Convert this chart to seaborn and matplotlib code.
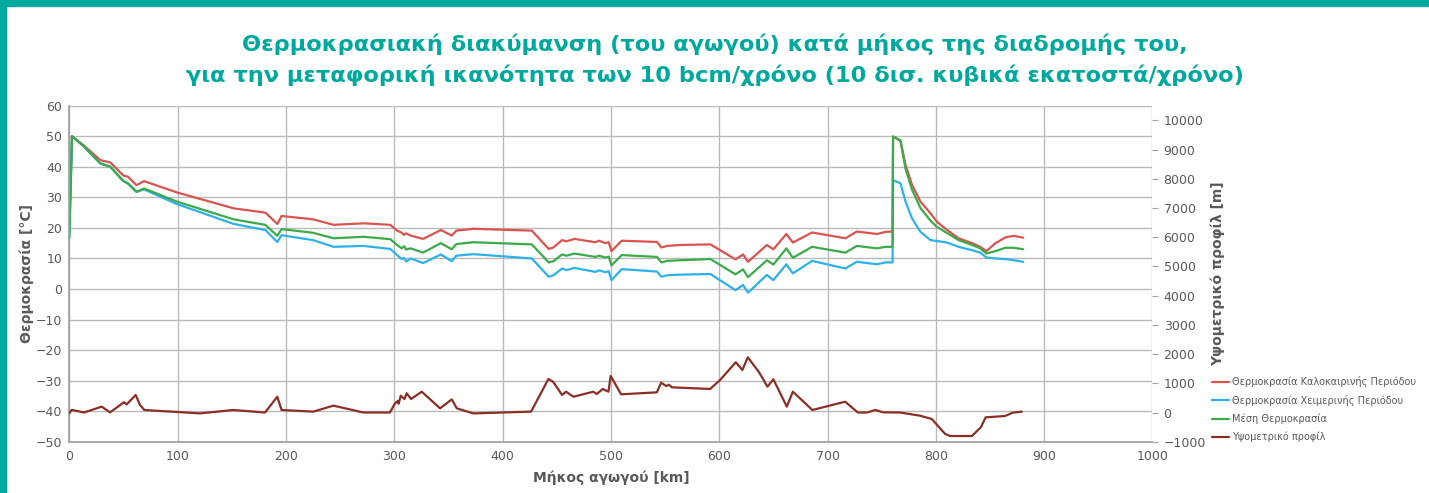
import numpy as np
import pandas as pd
import seaborn as sns
import matplotlib.pyplot as plt
from matplotlib.patches import Rectangle

# km positions shared by the three temperature series
km_temp = [0, 2.5, 13, 28.6, 37.9, 50, 54, 62, 69, 99.4,
           151.7, 181, 192, 196, 225, 244, 271.7, 296.4, 302.6, 307,
           309, 311, 315, 326.6, 343, 353, 357.3, 373, 427, 442.6,
           447, 454.9, 459, 466.3, 485.7, 489, 495, 498, 500.5, 510,
           542.6, 546.6, 552, 564, 591.9, 615, 622, 626.6, 644, 650,
           662, 668, 685.7, 716.5, 727, 745.7, 753.5, 760, 760.5, 767.3,
           772, 778, 785.8, 795, 801, 810.4, 821, 833.5, 841, 846.7,
           855, 864.3, 872, 880.6]

t_summer = [20, 50, 47.1, 42.2, 41.4, 37.1, 36.8, 34.0, 35.3, 31.6,
            26.4, 25.0, 21.3, 23.9, 22.8, 21.0, 21.5, 21.0, 19.1, 18.4,
            17.7, 18.2, 17.5, 16.4, 19.3, 17.5, 19.1, 19.7, 19.1, 13.1,
            13.6, 16.0, 15.6, 16.4, 15.3, 15.8, 15.0, 15.3, 12.4, 15.8,
            15.4, 13.6, 14.1, 14.4, 14.6, 9.7, 11.3, 8.9, 14.4, 13.0,
            18.0, 15.2, 18.5, 16.6, 18.8, 18.0, 18.7, 18.8, 49.9, 48.6,
            40.6, 34.1, 28.6, 24.8, 22.0, 19.3, 16.6, 15.0, 13.8, 12.4,
            15.0, 16.9, 17.4, 16.8]

t_winter = [16.7, 50, 46.8, 41.1, 40.0, 35.3, 34.6, 31.8, 32.6, 27.8,
            21.3, 19.3, 15.4, 17.6, 16.0, 13.8, 14.1, 13.1, 11.1, 9.8,
            10.2, 9.0, 10.0, 8.5, 11.3, 9.1, 10.9, 11.4, 10.0, 4.0,
            4.5, 6.7, 6.2, 6.9, 5.6, 6.1, 5.5, 5.8, 2.9, 6.5,
            5.7, 4.0, 4.5, 4.7, 4.9, -0.4, 1.3, -1.2, 4.6, 2.9,
            8.1, 5.1, 9.2, 6.7, 8.9, 8.1, 8.7, 8.7, 35.6, 34.6,
            28.6, 23.1, 18.7, 16.0, 15.7, 15.2, 13.8, 12.7, 11.9, 10.3,
            10.0, 9.8, 9.4, 8.9]

t_mean = [16.7, 50, 46.8, 41.1, 40.0, 35.3, 34.6, 31.8, 32.9, 28.6,
          22.8, 21.0, 17.4, 19.6, 18.4, 16.6, 17.1, 16.3, 14.4, 13.3,
          14.0, 12.9, 13.3, 11.9, 15.0, 13.0, 14.7, 15.3, 14.6, 8.7,
          9.1, 11.3, 10.9, 11.6, 10.5, 10.9, 10.3, 10.6, 7.7, 11.1,
          10.5, 8.7, 9.2, 9.4, 9.8, 4.8, 6.4, 3.9, 9.4, 8.0,
          13.3, 10.2, 13.8, 11.9, 14.1, 13.3, 13.8, 13.8, 49.9, 48.6,
          39.4, 32.5, 26.5, 22.4, 20.3, 18.3, 16.0, 14.4, 13.3, 11.6,
          12.4, 13.5, 13.5, 13.0]

# elevation profile
km_elev = [0, 2.2, 13.6, 29.9, 37.6, 50.5, 53, 61.3, 65.3, 69.3,
           120.7, 151.4, 180.7, 192, 196, 225.3, 243.8, 271.5, 296, 300.7,
           303.2, 304, 306, 309.4, 311.5, 315.5, 325.4, 342.3, 353.1, 357.7,
           373, 426.3, 442.3, 445.4, 447, 454.9, 458.6, 465.4, 483.8, 486.9,
           492.5, 497.7, 499.8, 509.4, 542.4, 546.4, 551, 553.5, 556.3, 591.6,
           600.8, 615.3, 621.4, 626.4, 636.8, 644.5, 650, 662.4, 668, 686,
           716.3, 728, 736.3, 744, 751.6, 767, 785.5, 796.3, 808.6, 813.2,
           833.2, 841.5, 846, 863.8, 871, 879.4]

elev = [-30, 90, 0, 200, 5, 350, 280, 600, 257, 86,
        -30, 86, 0, 540, 86, 30, 235, 0, 0, 315,
        394, 300, 575, 462, 657, 462, 712, 143, 450, 143,
        -30, 30, 1147, 1080, 1034, 600, 712, 540, 712, 633,
        805, 712, 1250, 623, 690, 1020, 907, 950, 862, 805,
        1113, 1720, 1455, 1890, 1376, 885, 1137, 200, 712, 86,
        370, 0, 0, 86, 5, 0, -110, -223, -736, -805,
        -805, -507, -165, -120, -5, 30]

labels = ["Θερμοκρασία Καλοκαιρινής Περιόδου",
          "Θερμοκρασία Χειμερινής Περιόδου",
          "Μέση Θερμοκρασία",
          "Υψομετρικό προφίλ"]
colors = ["#D9534F", "#2CB1EA", "#3BAA4A", "#8B2F25"]

title1 = "Θερμοκρασιακή διακύμανση (του αγωγού) κατά μήκος της διαδρομής του,"
title2 = "για την μεταφορική ικανότητα των 10 bcm/χρόνο (10 δισ. κυβικά εκατοστά/χρόνο)"

sns.set_theme(style="white")
plt.rcParams['font.family'] = ['DejaVu Sans']

temps = pd.DataFrame({"km": km_temp, "summer": t_summer,
                      "winter": t_winter, "mean": t_mean})
prof = pd.DataFrame({"km": km_elev, "elev": elev})

teal = "#00A99D"
grey_txt = "#595959"

fig = plt.figure(figsize=(14.29, 4.93), dpi=100)
ax = fig.add_axes([0.0485, 0.104, 0.758, 0.6816])
ax2 = ax.twinx()

for col, lab, c in zip(["summer", "winter", "mean"], labels[:3], colors[:3]):
    sns.lineplot(data=temps, x="km", y=col, ax=ax, color=c, lw=1.6,
                 label=lab, sort=False, estimator=None, legend=False)
sns.lineplot(data=prof, x="km", y="elev", ax=ax2, color=colors[3], lw=1.6,
             label=labels[3], sort=False, estimator=None, legend=False)

ax.set_xlim(0, 1000)
ax.set_ylim(-50, 60)
ax.set_xticks(range(0, 1001, 100))
ax.set_yticks(range(-50, 61, 10))
ax2.set_ylim(-1000, 10500)
ax2.set_yticks(range(-1000, 10001, 1000))

ax.grid(True, color="#BABABA", lw=1)
ax2.grid(False)
ax.set_axisbelow(True)
for a in (ax, ax2):
    for s in a.spines.values():
        s.set_visible(False)
ax.spines["left"].set_visible(True)
ax.spines["left"].set_color("#A0A0A0")
ax.spines["bottom"].set_visible(True)
ax.spines["bottom"].set_color("#A0A0A0")

ax.tick_params(axis="x", length=0, labelsize=9, colors=grey_txt, pad=6)
ax.tick_params(axis="y", length=0, labelsize=9, colors=grey_txt, pad=5)
ax2.tick_params(axis="y", length=4, width=0.8, color="#A0A0A0",
                labelsize=9, labelcolor=grey_txt, pad=4)

ax.set_xlabel("Μήκος αγωγού [km]", fontsize=10, fontweight="bold",
              color=grey_txt, labelpad=5)
ax.set_ylabel("Θερμοκρασία [°C]", fontsize=10, fontweight="bold",
              color=grey_txt, labelpad=1)
ax2.set_ylabel("Υψομετρικό προφίλ [m]", fontsize=10, fontweight="bold",
               color=grey_txt, labelpad=3)

h1, l1 = ax.get_legend_handles_labels()
h2, l2 = ax2.get_legend_handles_labels()
fig.legend(h1 + h2, l1 + l2, loc="upper left", bbox_to_anchor=(0.842, 0.255),
           frameon=False, fontsize=7, handlelength=1.8, handletextpad=0.3,
           labelspacing=0.8, labelcolor=grey_txt)

fig.text(0.5, 0.911, title1, ha="center", va="center", color=teal,
         fontsize=16.2, fontweight="bold")
fig.text(0.5, 0.848, title2, ha="center", va="center", color=teal,
         fontsize=16.2, fontweight="bold")

# teal frame at top and left
fig.patches.append(Rectangle((0, 1 - 6 / 493), 1, 6 / 493, transform=fig.transFigure,
                             color=teal, zorder=10))
fig.patches.append(Rectangle((0, 0), 6 / 1429, 1, transform=fig.transFigure,
                             color=teal, zorder=10))

fig.savefig("out.png", dpi=100)
